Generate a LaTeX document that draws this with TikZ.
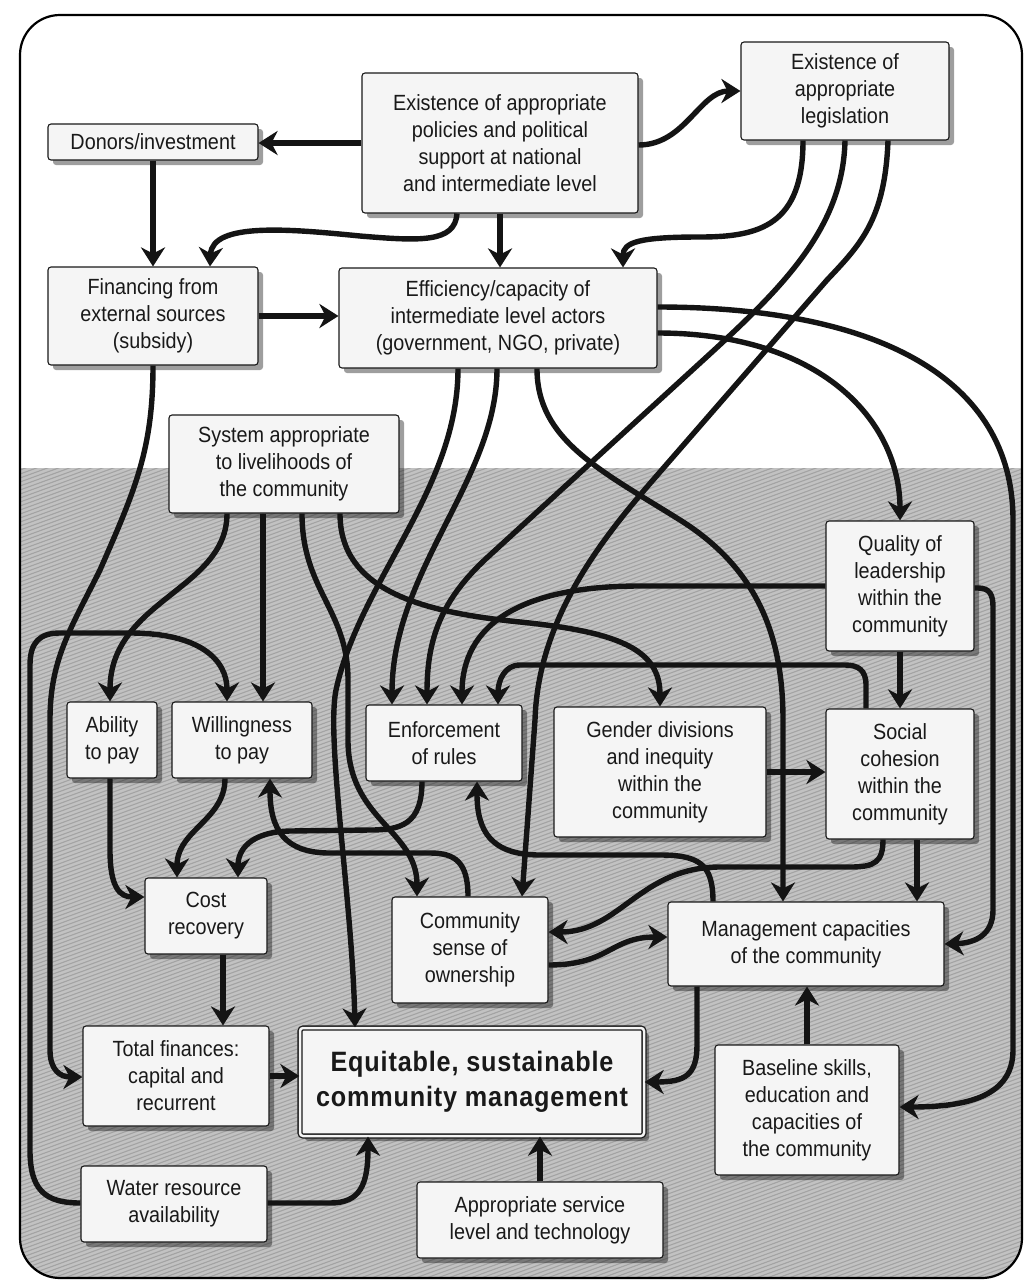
\documentclass[tikz,border=0pt]{standalone}
\usepackage{fontspec}
\setmainfont{Liberation Sans}[FakeStretch=0.9]
\usetikzlibrary{arrows.meta,shadows}
\begin{document}
\begin{tikzpicture}[x=1pt,y=-1pt,
  box/.style={draw=black!90, line width=1.1pt, rounded corners=3pt, fill=white!96!black,
    align=center, text=black!90, font=\fontsize{22}{27}\selectfont, inner sep=2pt,
    drop shadow={shadow xshift=5pt, shadow yshift=-5pt, fill=black, opacity=0.38}},
  wh/.style 2 args={minimum width=#1pt, minimum height=#2pt},
  conn/.style={line width=5.4pt, draw=black!92, -{Stealth[length=19pt,width=24pt,inset=6pt]}, line join=round},
]
\useasboundingbox (0,0) rectangle (1024,1285);
\begin{scope}
  \clip[rounded corners=40pt] (20,15) rectangle (1022,1278);
  \fill[white] (20,15) rectangle (1022,468);
  \clip (20,468) rectangle (1022,1278);
  \fill[black!24] (20,468) rectangle (1022,1278);
  \foreach \i in {0,...,300} {
    \draw[black!36, line width=1.1pt] (20,{1650-4*\i}) -- (1022,{1650-4*\i-365});
  }
\end{scope}
\draw[line width=2.2pt, rounded corners=40pt] (20,15) rectangle (1022,1278);

% nodes
\node[box, wh={210}{36}] (donors) at (153,142) {Donors/investment};
\node[box, wh={276}{140}] (policy) at (500,143) {Existence of appropriate\\policies and political\\support at national\\and intermediate level};
\node[box, wh={208}{98}] (legis) at (845,91) {Existence of\\appropriate\\legislation};
\node[box, wh={210}{98}] (fin) at (153,316) {Financing from\\external sources\\(subsidy)};
\node[box, wh={318}{100}] (eff) at (498,318) {Efficiency/capacity of\\intermediate level actors\\(government, NGO, private)};
\node[box, wh={230}{98}] (sys) at (284,464) {System appropriate\\to livelihoods of\\the community};
\node[box, wh={90}{76}] (abil) at (112,740) {Ability\\to pay};
\node[box, wh={140}{76}] (will) at (242,740) {Willingness\\to pay};
\node[box, wh={156}{76}] (enf) at (444,743) {Enforcement\\of rules};
\node[box, wh={212}{130}] (gen) at (660,772) {Gender divisions\\and inequity\\within the\\community};
\node[box, wh={148}{130}] (qual) at (900,586) {Quality of\\leadership\\within the\\community};
\node[box, wh={148}{130}] (soc) at (900,774) {Social\\cohesion\\within the\\community};
\node[box, wh={122}{76}] (cost) at (206,916) {Cost\\recovery};
\node[box, wh={156}{106}] (own) at (470,950) {Community\\sense of\\ownership};
\node[box, wh={276}{84}] (man) at (806,944) {Management capacities\\of the community};
\node[box, wh={186}{100}] (tot) at (176,1076) {Total finances:\\capital and\\recurrent};
\node[box, wh={344}{108}, double=white!96!black, double distance=2.5pt, line width=1.3pt,
      font=\fontsize{28}{35}\selectfont\bfseries\addfontfeature{LetterSpace=3}] (eq) at (472,1082) {Equitable, sustainable\\community management};
\node[box, wh={186}{76}] (wat) at (174,1204) {Water resource\\availability};
\node[box, wh={246}{76}] (app) at (540,1220) {Appropriate service\\level and technology};
\node[box, wh={184}{130}] (base) at (807,1110) {Baseline skills,\\education and\\capacities of\\the community};

% connectors
\draw[conn] (policy.west) -- (donors.east |- policy.west);
\draw[conn] ([yshift=-2pt]policy.east) .. controls (685,145) and (700,91) .. (legis.west);
\draw[conn] ([xshift=-43pt]policy.south) .. controls (455,243) and (420,241) .. (360,236) .. controls (290,229) and (212,222) .. ([xshift=57pt]fin.north);
\draw[conn] (policy.south) -- (policy.south |- eff.north);
\draw[conn] (donors.south) -- (donors.south |- fin.north);
\draw[conn] (fin.east) -- (fin.east -| eff.west);

\draw[conn] ([xshift=-42pt]legis.south) .. controls (803,225) and (760,237) .. (700,237) .. controls (640,237) and (623,242) .. ([xshift=125pt]eff.north);
\draw[conn] (legis.south) .. controls (843,230) and (780,290) .. (700,363) -- (490,555) .. controls (440,600) and (427,640) .. ([xshift=-17pt]enf.north);
\draw[conn] ([xshift=43pt]legis.south) .. controls (885,220) and (860,245) .. (827,280) -- (653,480) .. controls (600,541) and (538,620) .. (535,720) -- ([xshift=52pt]own.north);

\draw[conn] ([xshift=-40pt]eff.south) .. controls (458,490) and (360,580) .. (336,690) .. controls (326,740) and (352,900) .. ([xshift=-117pt]eq.north);
\draw[conn] ([xshift=-1pt]eff.south) .. controls (497,480) and (392,570) .. ([xshift=-52pt]enf.north);
\draw[conn] ([xshift=39pt]eff.south) .. controls (537,440) and (600,470) .. (680,520) .. controls (760,570) and (783,640) .. (783,720) -- ([xshift=-23pt]man.north);
\draw[conn] ([yshift=11pt]eff.east) .. controls (880,307) and (1013,380) .. (1013,520) -- (1013,1050) .. controls (1013,1095) and (970,1107) .. ([yshift=3pt]base.east);
\draw[conn] ([yshift=-15pt]eff.east) .. controls (820,333) and (900,420) .. (qual.north);

\draw[conn] (qual.west) -- (640,586) .. controls (520,586) and (462,625) .. ([xshift=18pt]enf.north);
\draw[conn] ([yshift=-2pt]qual.east) -- (978,588) .. controls (990,588) and (993,595) .. (993,607) -- (993,910) .. controls (993,935) and (975,943) .. (man.east);
\draw[conn] (qual.south) -- (soc.north);

\draw[conn] ([xshift=-34pt]soc.north) -- (866,685) .. controls (866,670) and (858,665) .. (845,665) -- (520,665) .. controls (505,665) and (498,680) .. ([xshift=54pt]enf.north);
\draw[conn] ([xshift=17pt]soc.south) -- ([xshift=111pt]man.north);
\draw[conn] ([xshift=-17pt]soc.south) .. controls (883,862) and (875,867) .. (850,867) -- (720,867) .. controls (640,867) and (620,932) .. ([yshift=18pt]own.east);
\draw[conn] (gen.east) -- (gen.east -| soc.west);

\draw[conn] ([xshift=-57pt]sys.south) .. controls (227,590) and (110,600) .. ([xshift=-2pt]abil.north);
\draw[conn] ([xshift=-21pt]sys.south) -- ([xshift=21pt]will.north);
\draw[conn] ([xshift=18pt]sys.south) .. controls (302,590) and (348,610) .. (348,680) -- (348,740) .. controls (348,820) and (417,830) .. ([xshift=-53pt]own.north);
\draw[conn] ([xshift=56pt]sys.south) .. controls (340,590) and (420,612) .. (520,622) .. controls (620,632) and (660,650) .. (gen.north);

\draw[conn] (fin.south) .. controls (153,450) and (135,490) .. (100,570) .. controls (70,630) and (50,660) .. (50,720) -- (50,1050) .. controls (50,1070) and (60,1077) .. ([yshift=-1pt]tot.west);
\draw[conn] ([yshift=1pt]wat.west) .. controls (45,1203) and (30,1190) .. (30,1150) -- (30,665) .. controls (30,642) and (40,633) .. (60,633) -- (130,633) .. controls (200,633) and (227,660) .. ([xshift=-15pt]will.north);
\draw[conn] ([yshift=1pt]wat.east) -- (330,1203) .. controls (360,1203) and (368,1185) .. ([xshift=-104pt]eq.south);
\draw[conn] (app.north) -- (app.north |- eq.south);
\draw[conn] (base.north) -- (base.north |- man.south);
\draw[conn] ([xshift=-109pt]man.south) -- (697,1045) .. controls (697,1075) and (685,1082) .. (eq.east);
\draw[conn] ([yshift=-15pt]own.east) .. controls (610,965) and (610,937) .. ([yshift=7pt]man.west);

\draw[conn] ([xshift=-2pt]abil.south) -- (110,850) .. controls (110,888) and (120,897) .. ([yshift=19pt]cost.west);
\draw[conn] ([xshift=-17pt]will.south) .. controls (225,820) and (177,830) .. ([xshift=-29pt]cost.north);
\draw[conn] ([xshift=-22pt]enf.south) .. controls (422,825) and (400,830) .. (370,830) -- (290,831) .. controls (250,832) and (238,850) .. ([xshift=32pt]cost.north);
\draw[conn] ([xshift=-2pt]own.north) .. controls (468,862) and (455,853) .. (430,853) -- (330,853) .. controls (285,853) and (270,830) .. ([xshift=28pt]will.south);
\draw[conn] ([xshift=-93pt]man.north) .. controls (713,865) and (700,855) .. (660,855) -- (540,855) .. controls (490,855) and (477,830) .. ([xshift=33pt]enf.south);
\draw[conn] ([xshift=17pt]cost.south) -- ([xshift=47pt]tot.north);
\draw[conn] (tot.east) -- (tot.east -| eq.west);
\end{tikzpicture}
\end{document}
